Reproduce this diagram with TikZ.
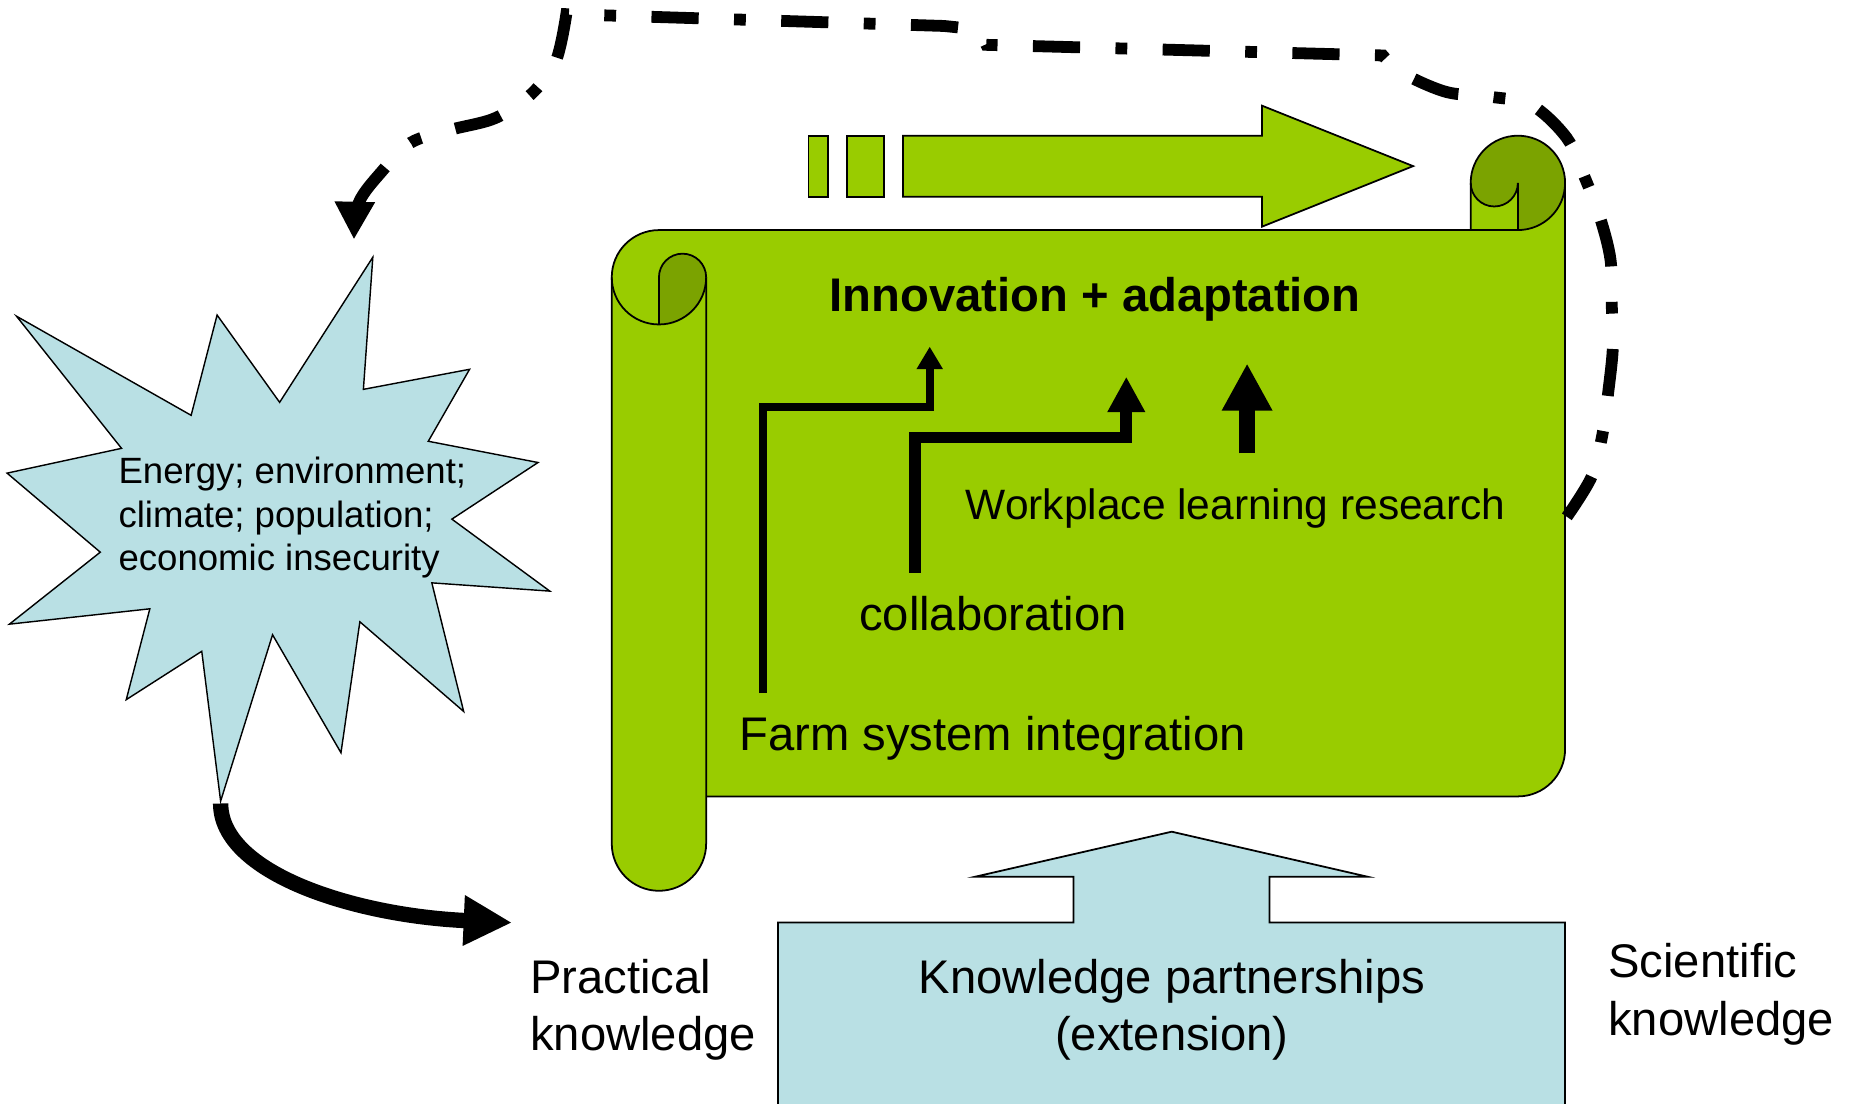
\documentclass[tikz,border=0pt]{standalone}
\usepackage{fontspec}
\setmainfont{Liberation Sans}
\usetikzlibrary{arrows.meta}
\definecolor{scrollgreen}{HTML}{99CC00}
\definecolor{curlgreen}{HTML}{7BA300}
\definecolor{pressblue}{HTML}{B9E0E4}
\def\fs#1#2{\fontsize{#1pt}{#2pt}\selectfont}

\begin{document}
\begin{tikzpicture}[x=1pt,y=-1pt,
    outline/.style={draw=black,line width=1.5pt},
    label/.style={inner sep=0pt,anchor=base west}]
	%%%%% START %%%%%
	\useasboundingbox (0,0) rectangle (1568,935);

	% scroll
	\fill[scrollgreen] (518.5,235) -- (518.5,715) arc[start angle=180,end angle=0,radius=40] -- (598.5,675) -- (1286.5,675) arc[start angle=90,end angle=0,radius=40] -- (1326.5,155) -- (1246.5,155) -- (1246.5,195) -- (558.5,195) arc[start angle=270,end angle=180,radius=40] -- cycle;
	\fill[curlgreen] (1286.5,155) arc[start angle=0,end angle=180,radius=20] arc[start angle=180,end angle=450,radius=40] -- cycle;
	\fill[curlgreen] (558.5,275) -- (558.5,235) arc[start angle=180,end angle=360,radius=20] arc[start angle=0,end angle=90,radius=40] -- cycle;

	\draw[outline] (558.5,195) arc[start angle=270,end angle=0,radius=40];
	\draw[outline] (518.5,235) -- (518.5,715) arc[start angle=180,end angle=0,radius=40] -- (598.5,235);
	\draw[outline] (558.5,275) -- (558.5,235) arc[start angle=180,end angle=360,radius=20];
	\draw[outline] (558.5,195) -- (1286.5,195);
	\draw[outline] (1246.5,195) -- (1246.5,155) arc[start angle=180,end angle=450,radius=40];
	\draw[outline] (1246.5,155) arc[start angle=180,end angle=0,radius=20] -- (1286.5,195);
	\draw[outline] (1326.5,155) -- (1326.5,635) arc[start angle=0,end angle=90,radius=40] -- (598.5,675);

	% block arrow
	\draw[outline,fill=scrollgreen] (685.3,115) rectangle (701.6,166.7);
	\draw[outline,fill=scrollgreen] (717.8,115) rectangle (749.1,166.7);
	\draw[outline,fill=scrollgreen] (765.4,115) -- (1069.7,115) -- (1069.7,89.6) -- (1197.7,140.8) -- (1069.7,192.1) -- (1069.7,166.7) -- (765.4,166.7) -- cycle;

	% burst
	\draw[line width=1.2pt,fill=pressblue] (316,218) -- (308,330) -- (398,313) -- (363,374) -- (456,392) -- (383,440) -- (466,501) -- (366,494) -- (393,603) -- (305,527) -- (289,638) -- (231,538) -- (187,679) -- (171,552) -- (107,593) -- (127,516) -- (8,529) -- (85,468) -- (6,401) -- (103,380) -- (14,268) -- (162,352) -- (184,267) -- (237,341) -- cycle;

	% extension box
	\draw[outline,fill=pressblue] (659.4,945) -- (659.4,781.8) -- (909.8,781.8) -- (909.8,743.1) -- (826.4,743.1) -- (993.1,704.9) -- (1159.2,743.1) -- (1075.9,743.1) -- (1075.9,781.8) -- (1326.5,781.8) -- (1326.5,945);

	\coordinate (burstbottom) at (187,681);
	\coordinate (bursttop) at (300,203);
	\coordinate (scrollright) at (1328,438);
	\coordinate (practicalin) at (434,782);

	\draw[line width=13pt,-{Triangle[length=41pt,width=40pt]}] (burstbottom) .. controls (187,740) and (300,776) .. (practicalin);

	\draw[line width=10pt,dash pattern=on 40pt off 30pt on 10pt off 30pt,-{Triangle[length=32pt,width=32pt]}]
		plot[smooth,tension=0.55] coordinates {(scrollright) (1349,404) (1358,369) (1363,333) (1367,294) (1366,257) (1365,220) (1356,184) (1343,150) (1328,117) (1298,89) (1263,82) (1226,78) (1189,62) (1172,47)}
		-- (836,38) .. controls (830,25) .. (800,22) -- (480,12)
		-- plot[smooth,tension=0.55] coordinates {(480,12) (471,52) (450,80) (420,100) (382,110) (348,121) (323,146) (304,172) (bursttop)};

	% steps
	\draw[line width=6.5pt,-{Triangle[length=19pt,width=21pt]}] (646.7,587.5) |- (788,344.7) -- (788,293.8);
	\draw[line width=10pt,-{Triangle[length=30pt,width=30pt]}] (775.3,485.4) |- (954.6,370.8) -- (954.6,319.3);
	\draw[line width=13pt,-{Triangle[length=40pt,width=40pt]}] (1057,384.3) -- (1057,308);

	\node[label,font=\fs{40}{48}\bfseries] (title) at (703,264) {Innovation + adaptation};
	\node[label,font=\fs{36}{43}] (workplace) at (818.4,440.7) {Workplace learning research};
	\node[label,font=\fs{40}{48}] (collab) at (728,534) {collaboration};
	\node[label,font=\fs{40}{48}] (farmsys) at (626.6,635.7) {Farm system integration};
	\node[label,align=left,font=\fs{31}{37}] (pressures) at (100.3,483.7) {Energy; environment;\\climate; population;\\economic insecurity};
	\node[label,align=left,font=\fs{40}{48.6}] (practical) at (449.3,890.5) {Practical\\knowledge};
	\node[label,anchor=base,align=center,font=\fs{40}{48.6}] (partners) at (993.2,890.5) {Knowledge partnerships\\(extension)};
	\node[label,align=left,font=\fs{40}{48.6}] (scientific) at (1363,877.3) {Scientific\\knowledge};
	%%%%% END %%%%%
\end{tikzpicture}
\end{document}
